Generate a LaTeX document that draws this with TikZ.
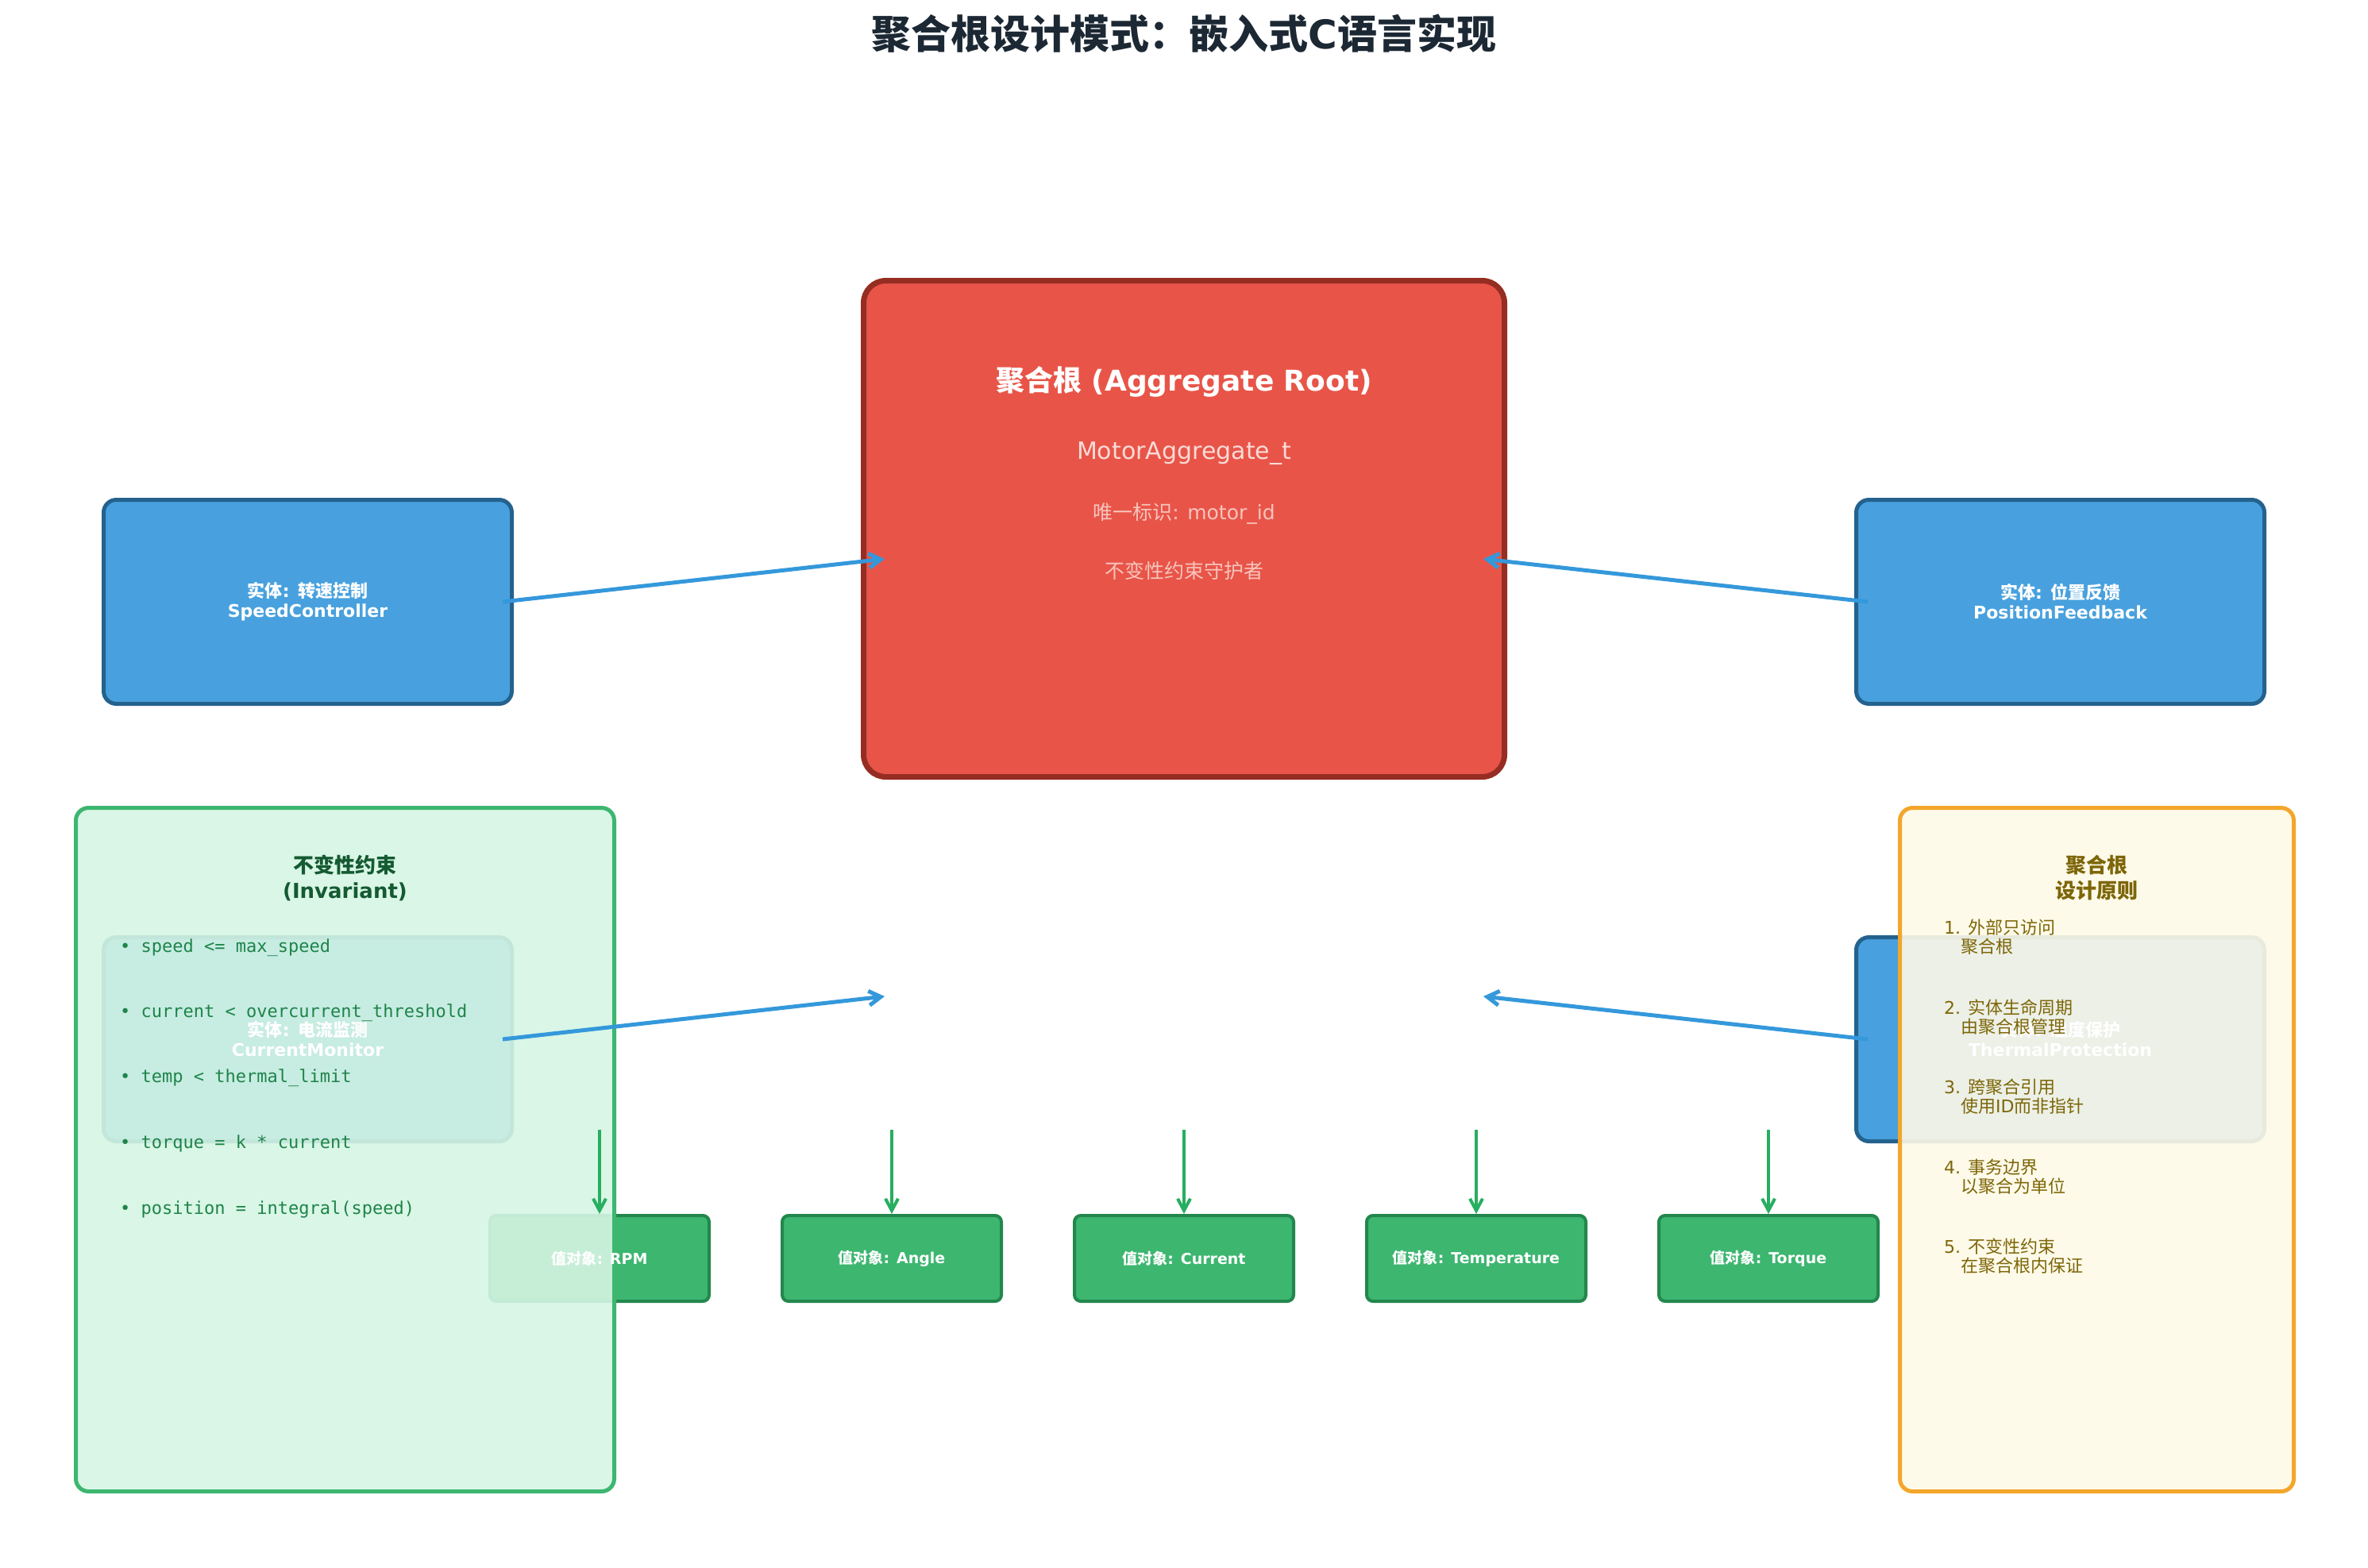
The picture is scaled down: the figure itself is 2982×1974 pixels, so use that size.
\documentclass[tikz,border=0pt]{standalone}
\usepackage{fontspec}
\setmainfont{DejaVu Sans}
\newfontfamily\monof{DejaVu Sans Mono}
\newfontfamily\cjkf{Noto Sans CJK SC}
\newcommand\zhtext[1]{{\cjkf #1}}
\usetikzlibrary{arrows.meta}
\definecolor{entfill}{HTML}{48A1DE}
\definecolor{entborder}{HTML}{24628E}
\definecolor{rootfill}{HTML}{E85548}
\definecolor{rootborder}{HTML}{962D22}
\definecolor{rootsub}{HTML}{FADBD8}
\definecolor{rootsubb}{HTML}{F7C4BE}
\definecolor{valfill}{HTML}{3DB670}
\definecolor{valborder}{HTML}{23874D}
\definecolor{gpfill}{HTML}{D5F5E3}
\definecolor{gpborder}{HTML}{3DB670}
\definecolor{ypfill}{HTML}{FEF9E7}
\definecolor{ypborder}{HTML}{F4A62A}
\definecolor{gtitle}{HTML}{145A32}
\definecolor{glist}{HTML}{1E8449}
\definecolor{ytext}{HTML}{7D6608}
\definecolor{titlecol}{HTML}{1C2833}
\definecolor{arrowblue}{HTML}{3498DB}
\definecolor{arrowgreen}{HTML}{27AE60}
\begin{document}
\begin{tikzpicture}[x=1pt,y=-1pt,
  entity/.style={draw=entborder, line width=5pt, fill=entfill, rounded corners=16pt, minimum width=514pt, minimum height=257pt, inner sep=0pt},
  roothull/.style={draw=rootborder, line width=7pt, fill=rootfill, rounded corners=28pt, minimum width=807pt, minimum height=625pt, inner sep=0pt},
  valbox/.style={draw=valborder, line width=4pt, fill=valfill, rounded corners=8pt, minimum width=276pt, minimum height=108pt, inner sep=0pt},
  gpanel/.style={draw=gpborder, line width=5pt, fill=gpfill, fill opacity=0.9, rounded corners=16pt, minimum width=678pt, minimum height=861pt, inner sep=0pt},
  ypanel/.style={draw=ypborder, line width=5pt, fill=ypfill, fill opacity=0.9, rounded corners=16pt, minimum width=496pt, minimum height=861pt, inner sep=0pt},
  enttext/.style={text=white, font=\bfseries\fontsize{22}{25}\selectfont, align=center, inner sep=0pt},
  valtext/.style={text=white, font=\bfseries\fontsize{19}{22}\selectfont, inner sep=0pt},
  gitem/.style={text=glist, font=\monof\fontsize{22}{26}\selectfont, inner sep=0pt, anchor=west},
  yitem/.style={text=ytext, font=\fontsize{22}{24.5}\selectfont, inner sep=0pt, anchor=west, align=left},
  paneltitle/.style={font=\bfseries\fontsize{26}{32}\selectfont, align=center, inner sep=0pt},
  barrow/.style={draw=arrowblue, line width=5pt, -{Straight Barb[length=15pt,width=18pt]}},
  garrow/.style={draw=arrowgreen, line width=4pt, -{Straight Barb[length=15pt,width=16pt]}}]
\useasboundingbox (0,0) rectangle (2982,1974);

% title
\node[text=titlecol, font=\bfseries\fontsize{50}{55}\selectfont, inner sep=0pt] (title) at (1491,42) {\zhtext{聚合根设计模式：嵌入式}C\zhtext{语言实现}};

% boxes
\node[roothull] (root) at (1491,666) {};
\node[entity] (sc) at (387.5,758) {};
\node[entity] (pf) at (2594.5,758) {};
\node[entity] (cm) at (387.5,1309) {};
\node[entity] (tp) at (2594.5,1309) {};
\node[valbox] (v1) at (755,1585) {};
\node[valbox] (v2) at (1123,1585) {};
\node[valbox] (v3) at (1491,1585) {};
\node[valbox] (v4) at (1859,1585) {};
\node[valbox] (v5) at (2227,1585) {};

% panels
\node[gpanel] (gp) at (434.5,1448) {};
\node[ypanel] (yp) at (2640.5,1448) {};

% arrows
\coordinate (rinUL) at (1114,704);
\coordinate (rinUR) at (1868,704);
\coordinate (rinLL) at (1114,1255);
\coordinate (rinLR) at (1868,1255);
\draw[barrow] ([xshift=-14pt]sc.east) -- (rinUL);
\draw[barrow] ([xshift=17pt]pf.west) -- (rinUR);
\draw[barrow] ([xshift=-14pt]cm.east) -- (rinLL);
\draw[barrow] ([xshift=17pt]tp.west) -- (rinLR);
\coordinate (vs1) at (755,1423);
\coordinate (vs2) at (1123,1423);
\coordinate (vs3) at (1491,1423);
\coordinate (vs4) at (1859,1423);
\coordinate (vs5) at (2227,1423);
\draw[garrow] (vs1) -- (v1.north);
\draw[garrow] (vs2) -- (v2.north);
\draw[garrow] (vs3) -- (v3.north);
\draw[garrow] (vs4) -- (v4.north);
\draw[garrow] (vs5) -- (v5.north);

% root texts
\node[text=white, font=\bfseries\fontsize{36}{40}\selectfont, inner sep=0pt] (rootT) at (1491,481) {\zhtext{聚合根} (Aggregate Root)};
\node[text=rootsub, font=\fontsize{30}{34}\selectfont, inner sep=0pt] (rootS) at (1491,571) {MotorAggregate\_t};
\node[text=rootsubb, font=\fontsize{25}{28}\selectfont, inner sep=0pt] (rootI) at (1491,647) {\zhtext{唯一标识}: motor\_id};
\node[text=rootsubb, font=\fontsize{25}{28}\selectfont, inner sep=0pt] (rootG) at (1491,719) {\zhtext{不变性约束守护者}};

% entity texts
\node[enttext] (sct) at (sc) {\zhtext{实体}: \zhtext{转速控制}\\SpeedController};
\node[enttext] (pft) at (pf) {\zhtext{实体}: \zhtext{位置反馈}\\PositionFeedback};
\node[enttext] (cmt) at (cm) {\zhtext{实体}: \zhtext{电流监测}\\CurrentMonitor};
\node[enttext] (tpt) at (tp) {\zhtext{实体}: \zhtext{温度保护}\\ThermalProtection};

% value texts
\node[valtext] (v1t) at (v1) {\zhtext{值对象}: RPM};
\node[valtext] (v2t) at (v2) {\zhtext{值对象}: Angle};
\node[valtext] (v3t) at (v3) {\zhtext{值对象}: Current};
\node[valtext] (v4t) at (v4) {\zhtext{值对象}: Temperature};
\node[valtext] (v5t) at (v5) {\zhtext{值对象}: Torque};

% green panel texts
\node[paneltitle, text=gtitle] (gpT) at (434.5,1106) {\zhtext{不变性约束}\\(Invariant)};
\node[gitem] (g1) at (151,1194) {• speed <= max\_speed};
\node[gitem] (g2) at (151,1276) {• current < overcurrent\_threshold};
\node[gitem] (g3) at (151,1358) {• temp < thermal\_limit};
\node[gitem] (g4) at (151,1440) {• torque = k * current};
\node[gitem] (g5) at (151,1523) {• position = integral(speed)};

% yellow panel texts
\node[paneltitle, text=ytext] (ypT) at (2640.5,1106) {\zhtext{聚合根}\\\zhtext{设计原则}};
\node[yitem] (y1) at (2448,1180) {1. \zhtext{外部只访问}\\\hspace*{21pt}\zhtext{聚合根}};
\node[yitem] (y2) at (2448,1281) {2. \zhtext{实体生命周期}\\\hspace*{21pt}\zhtext{由聚合根管理}};
\node[yitem] (y3) at (2448,1381) {3. \zhtext{跨聚合引用}\\\hspace*{21pt}\zhtext{使用}ID\zhtext{而非指针}};
\node[yitem] (y4) at (2448,1482) {4. \zhtext{事务边界}\\\hspace*{21pt}\zhtext{以聚合为单位}};
\node[yitem] (y5) at (2448,1582) {5. \zhtext{不变性约束}\\\hspace*{21pt}\zhtext{在聚合根内保证}};
\end{tikzpicture}
\end{document}
